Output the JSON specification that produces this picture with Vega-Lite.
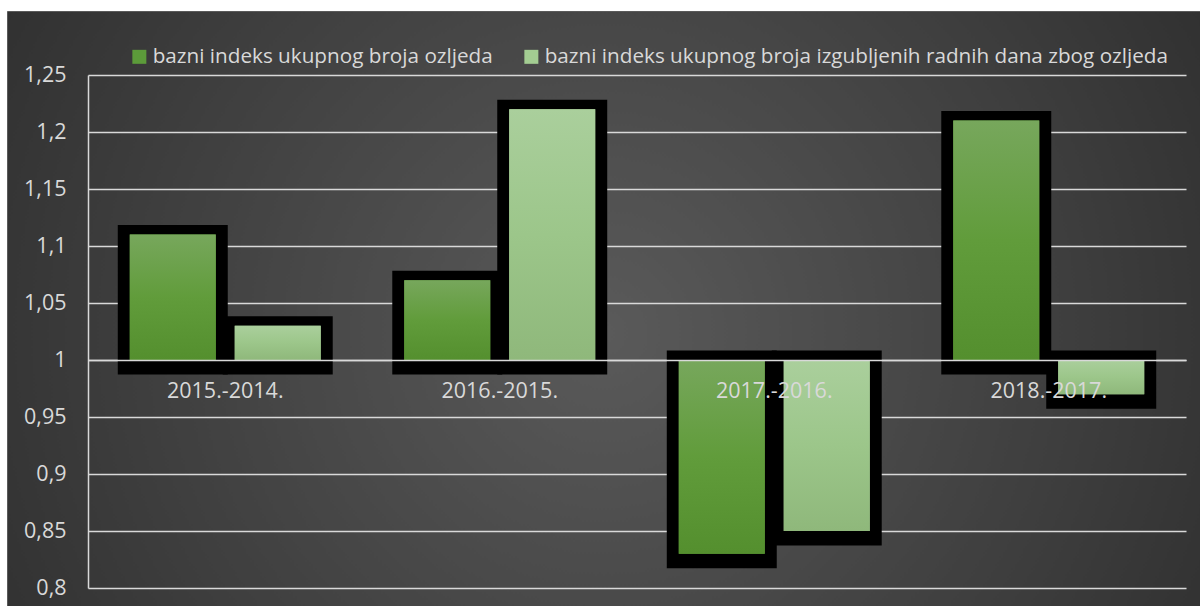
{
  "$schema": "https://vega.github.io/schema/vega-lite/v6.json",
  "width": 1193,
  "height": 595,
  "autosize": {"type": "none"},
  "padding": {"left": 7, "top": 11, "right": 0, "bottom": 0},
  "background": "#ffffff",
  "config": {
    "font": "Open Sans",
    "view": {
      "stroke": "#5a5a5a",
      "strokeWidth": 1,
      "fill": {
        "gradient": "radial",
        "x1": 0.5, "y1": 0.52, "r1": 0,
        "x2": 0.5, "y2": 0.52, "r2": 0.72,
        "stops": [
          {"offset": 0, "color": "#5a5a5a"},
          {"offset": 1, "color": "#262626"}
        ]
      }
    }
  },
  "data": {
    "values": [
      {"period": "2015.-2014.", "series": "bazni indeks ukupnog broja ozljeda", "value": 1.11},
      {"period": "2015.-2014.", "series": "bazni indeks ukupnog broja izgubljenih radnih dana zbog ozljeda", "value": 1.03},
      {"period": "2016.-2015.", "series": "bazni indeks ukupnog broja ozljeda", "value": 1.07},
      {"period": "2016.-2015.", "series": "bazni indeks ukupnog broja izgubljenih radnih dana zbog ozljeda", "value": 1.22},
      {"period": "2017.-2016.", "series": "bazni indeks ukupnog broja ozljeda", "value": 0.83},
      {"period": "2017.-2016.", "series": "bazni indeks ukupnog broja izgubljenih radnih dana zbog ozljeda", "value": 0.85},
      {"period": "2018.-2017.", "series": "bazni indeks ukupnog broja ozljeda", "value": 1.21},
      {"period": "2018.-2017.", "series": "bazni indeks ukupnog broja izgubljenih radnih dana zbog ozljeda", "value": 0.97}
    ]
  },
  "encoding": {
    "x": {
      "field": "period", "type": "nominal", "sort": null,
      "scale": {"range": [81, 1179], "paddingInner": 0, "paddingOuter": 0},
      "axis": {
        "orient": "bottom", "offset": -246, "title": null, "labelAngle": 0,
        "ticks": false, "grid": false,
        "domain": true, "domainColor": "#d9d9d9", "domainWidth": 1.5,
        "labelColor": "#d9d9d9", "labelFontSize": 21.5, "labelFont": "Open Sans",
        "labelPadding": 20, "labelBaseline": "top", "zindex": 1
      }
    },
    "xOffset": {
      "field": "series", "type": "nominal", "sort": null,
      "scale": {
        "domain": ["bazni indeks ukupnog broja ozljeda", "bazni indeks ukupnog broja izgubljenih radnih dana zbog ozljeda"],
        "paddingInner": 0.181, "paddingOuter": 0.398
      }
    },
    "y": {
      "field": "value", "type": "quantitative",
      "scale": {"domain": [0.8, 1.25], "range": [577, 64], "nice": false, "zero": false},
      "axis": {
        "orient": "left", "offset": -81, "title": null,
        "values": [0.8, 0.85, 0.9, 0.95, 1, 1.05, 1.1, 1.15, 1.2, 1.25],
        "labelExpr": "replace(format(datum.value, '.2~f'), '.', ',')",
        "ticks": false, "grid": true, "gridColor": "#d9d9d9", "gridWidth": 1.5,
        "domain": true, "domainColor": "#d9d9d9", "domainWidth": 1.5,
        "labelColor": "#d9d9d9", "labelFontSize": 21.5, "labelFont": "Open Sans",
        "labelPadding": 22, "zindex": 0
      }
    },
    "y2": {"datum": 1}
  },
  "layer": [
    {
      "mark": {"type": "bar", "fill": "#000000", "stroke": "#000000", "strokeWidth": 24, "strokeJoin": "miter", "yOffset": 2.5, "y2Offset": 2.5}
    },
    {
      "mark": {"type": "bar"},
      "encoding": {
        "color": {
          "field": "series", "type": "nominal", "sort": null,
          "scale": {
            "domain": ["bazni indeks ukupnog broja ozljeda", "bazni indeks ukupnog broja izgubljenih radnih dana zbog ozljeda"],
            "range": ["#5c9b3a", "#a3cd92"]
          },
          "legend": {
            "orient": "none", "legendX": 122, "legendY": 35, "direction": "horizontal",
            "title": null, "symbolType": "square", "symbolSize": 196, "symbolStrokeWidth": 0,
            "labelFontSize": 20.7, "labelFont": "Open Sans", "labelColor": "#d9d9d9",
            "labelOffset": 3, "columnPadding": 28, "padding": 0, "labelLimit": 800
          }
        }
      }
    },
    {
      "transform": [{"filter": "datum.series === 'bazni indeks ukupnog broja ozljeda'"}],
      "mark": {
        "type": "bar",
        "fill": {
          "gradient": "linear", "x1": 0, "y1": 0, "x2": 0, "y2": 1,
          "stops": [
            {"offset": 0, "color": "#77a75c"},
            {"offset": 0.5, "color": "#619c3b"},
            {"offset": 1, "color": "#548f2e"}
          ]
        }
      }
    },
    {
      "transform": [{"filter": "datum.series !== 'bazni indeks ukupnog broja ozljeda'"}],
      "mark": {
        "type": "bar",
        "fill": {
          "gradient": "linear", "x1": 0, "y1": 0, "x2": 0, "y2": 1,
          "stops": [
            {"offset": 0, "color": "#aacf9c"},
            {"offset": 0.5, "color": "#9cc68a"},
            {"offset": 1, "color": "#8fb87b"}
          ]
        }
      }
    }
  ]
}
